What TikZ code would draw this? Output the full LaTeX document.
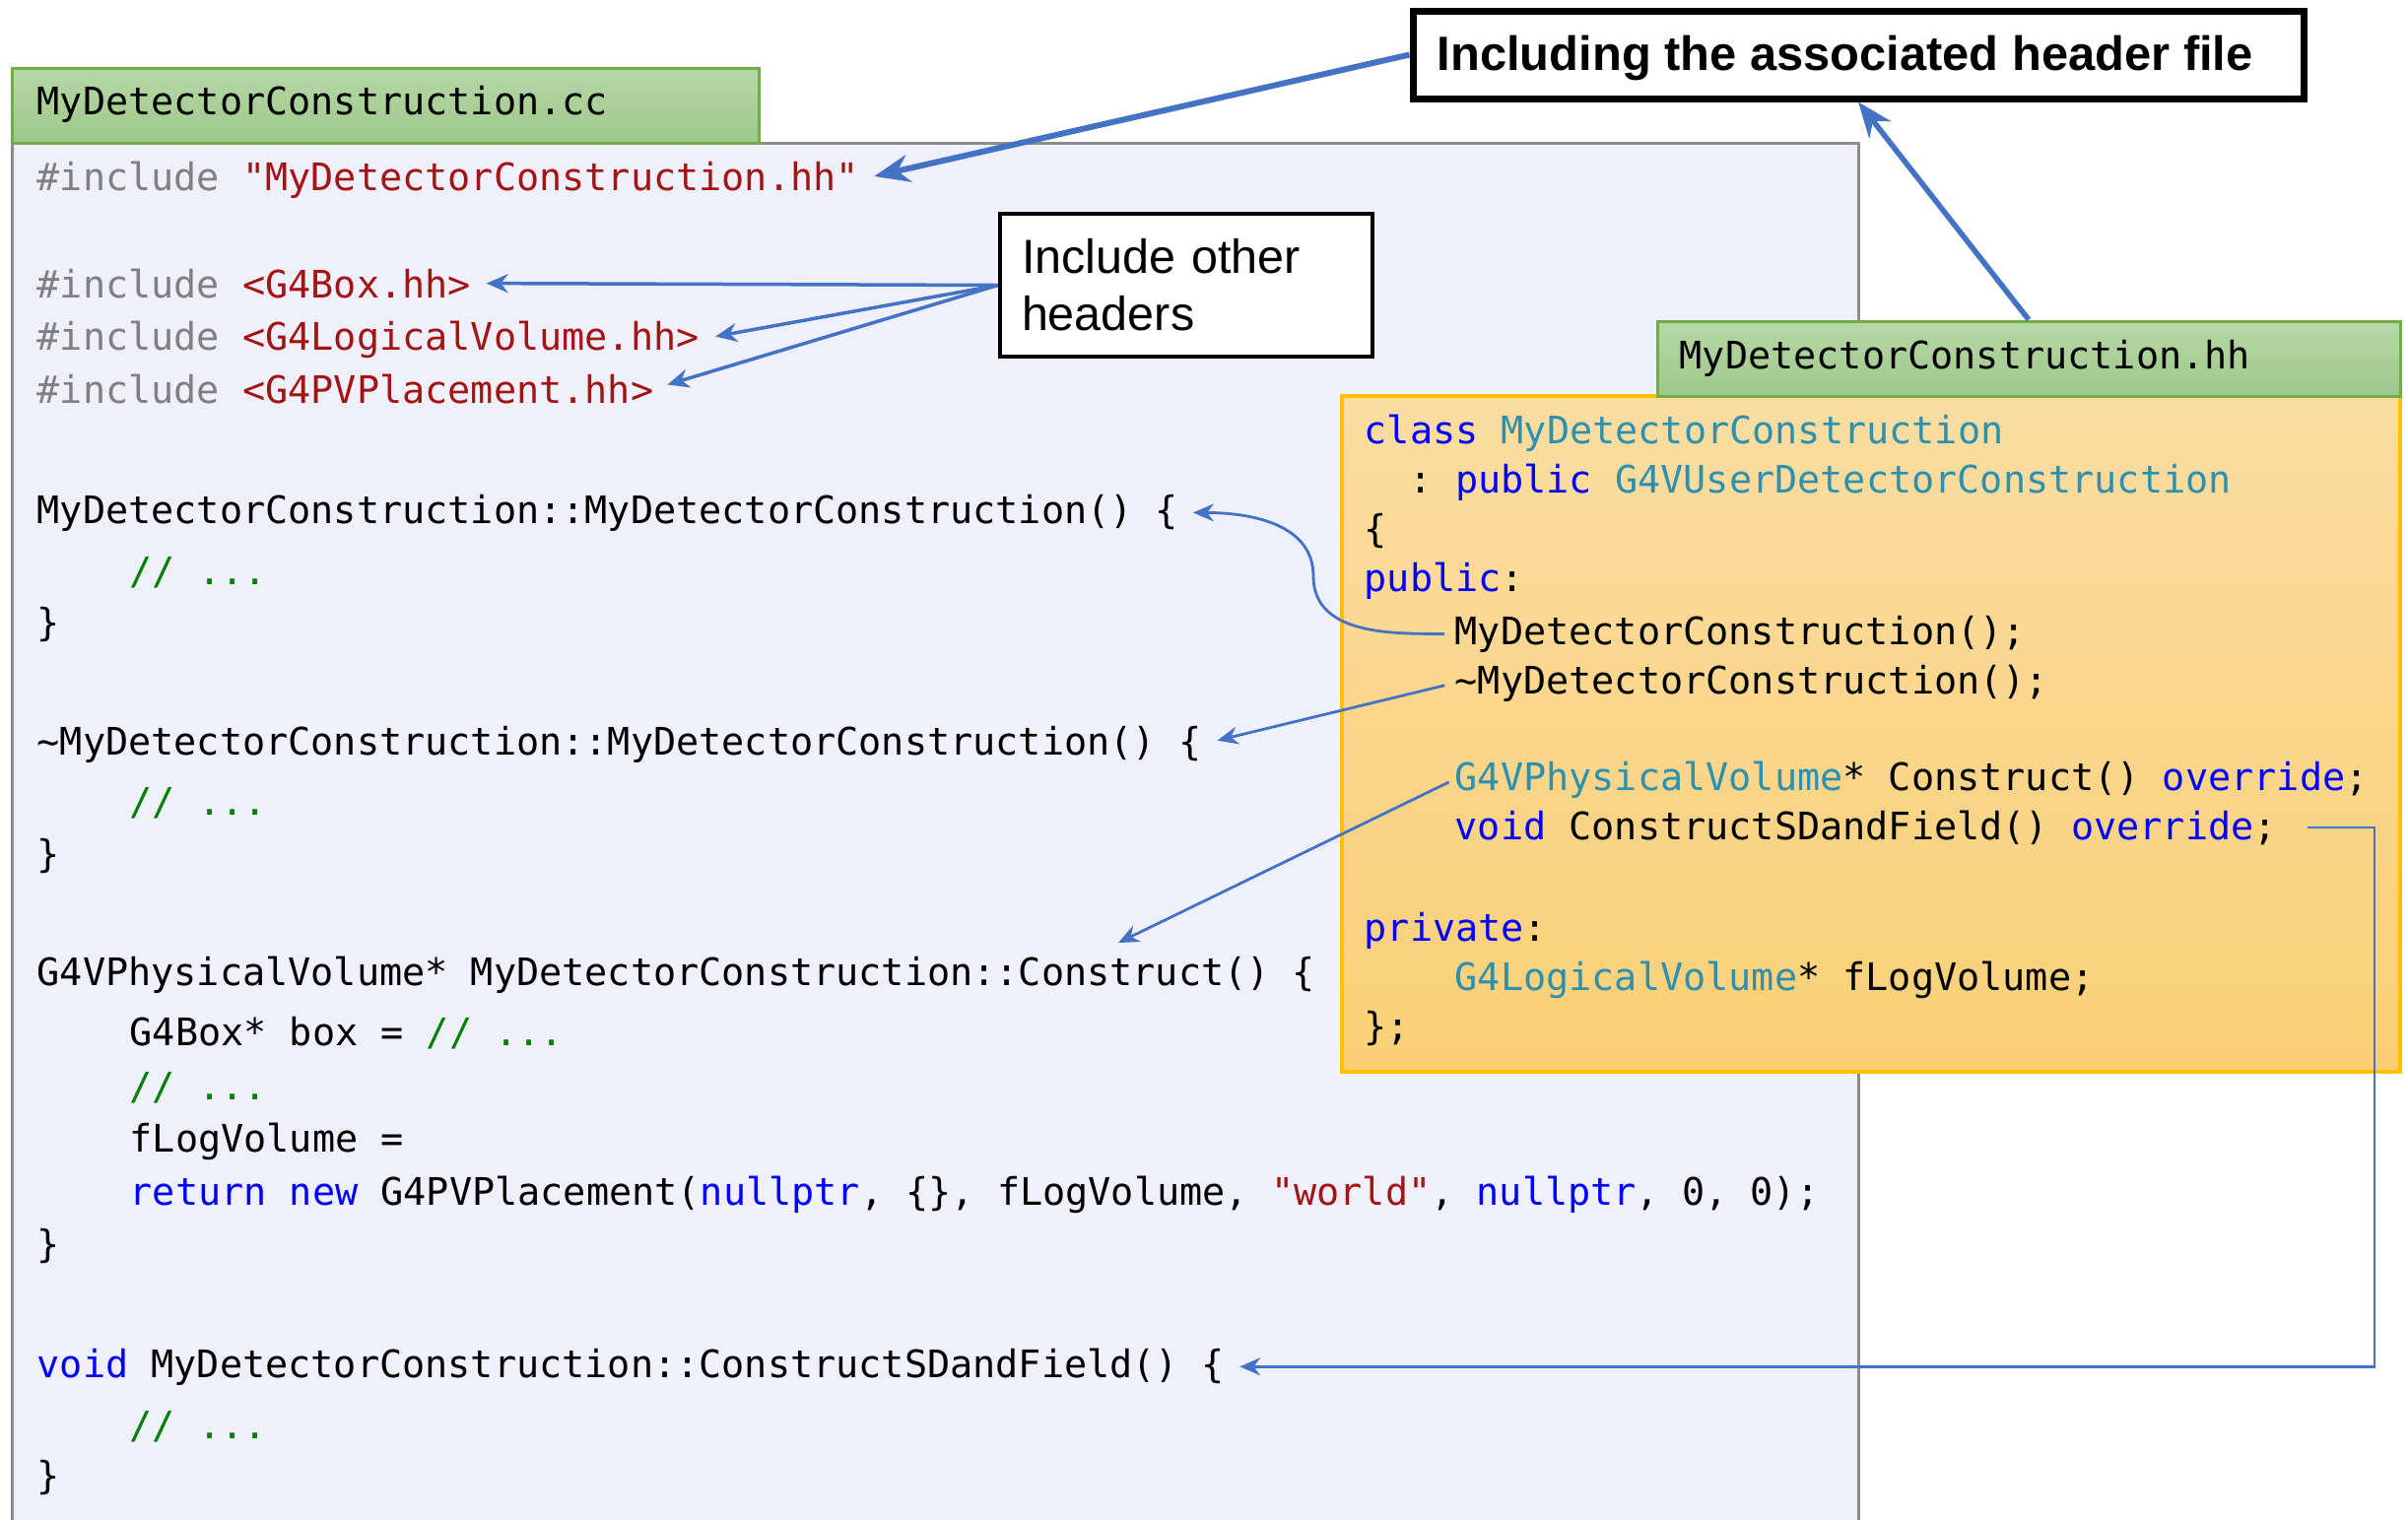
\documentclass[tikz,border=0pt]{standalone}
\usepackage{fontspec}
\setmainfont{Liberation Sans}
\setmonofont{DejaVu Sans Mono}
\usetikzlibrary{arrows.meta,calc}
\definecolor{kwc}{RGB}{0,0,255}
\definecolor{tyc}{RGB}{43,145,175}
\definecolor{strc}{RGB}{163,21,21}
\definecolor{cmc}{RGB}{0,128,0}
\definecolor{ppc}{RGB}{128,128,128}
\definecolor{arrblue}{RGB}{68,114,196}
\definecolor{lav}{RGB}{240,240,252}
\definecolor{grayb}{RGB}{140,140,140}
\definecolor{gtop}{RGB}{182,216,166}
\definecolor{gbot}{RGB}{158,199,138}
\definecolor{gbord}{RGB}{112,173,71}
\definecolor{otop}{RGB}{251,221,162}
\definecolor{obot}{RGB}{250,207,118}
\definecolor{gold}{RGB}{255,192,0}
\newcommand{\kwd}[1]{\textcolor{kwc}{#1}}
\newcommand{\typ}[1]{\textcolor{tyc}{#1}}
\newcommand{\strg}[1]{\textcolor{strc}{#1}}
\newcommand{\cmt}[1]{\textcolor{cmc}{#1}}
\newcommand{\ppd}[1]{\textcolor{ppc}{#1}}
\begin{document}
\begin{tikzpicture}[x=0.1mm,y=-0.1mm,
  code/.style={font=\ttfamily\fontsize{10.95}{13}\selectfont, inner sep=0pt, anchor=base west},
  tab/.style={draw=gbord, line width=0.3mm, top color=gtop, bottom color=gbot, inner sep=0pt},
  lbl/.style={font=\fontsize{13.8}{16.5}\selectfont, fill=white, draw=black, inner sep=0pt},
  arr/.style={draw=arrblue, line width=0.35mm, -{Stealth[length=2.2mm,width=1.9mm]}},
  thin/.style={draw=arrblue, line width=0.28mm, -{Stealth[length=2.1mm,width=1.8mm]}},
  big/.style={draw=arrblue, line width=0.6mm, -{Stealth[length=3.6mm,width=2.8mm]}}]
\useasboundingbox (0,0) rectangle (2444,1542);
\clip (0,0) rectangle (2444,1542);
% .cc box
\fill[lav] (12,145) rectangle (1886,1570);
\draw[grayb, line width=0.3mm] (12,1570) -- (12,145) -- (1886,145) -- (1886,1570);
\node[tab, minimum width=75.8mm, minimum height=7.6mm] (tabcc) at (391,107) {};
\node[code] (tcc) at (37,116) {MyDetectorConstruction.cc};
% .cc code
\node[code] (c1) at (37,193) {\ppd{\#include} \strg{"MyDetectorConstruction.hh"}};
\node[code] (c2) at (37,302) {\ppd{\#include} \strg{<G4Box.hh>}};
\node[code] (c3) at (37,355) {\ppd{\#include} \strg{<G4LogicalVolume.hh>}};
\node[code] (c4) at (37,409) {\ppd{\#include} \strg{<G4PVPlacement.hh>}};
\node[code] (c5) at (37,531) {MyDetectorConstruction::MyDetectorConstruction() \{};
\node[code] (c6) at (131,593) {\cmt{// ...}};
\node[code] (c7) at (37,645) {\}};
\node[code] (c8) at (37,766) {\textasciitilde MyDetectorConstruction::MyDetectorConstruction() \{};
\node[code] (c9) at (131,827) {\cmt{// ...}};
\node[code] (c10) at (37,880) {\}};
\node[code] (c11) at (37,1000) {G4VPhysicalVolume* MyDetectorConstruction::Construct() \{};
\node[code] (c12) at (131,1061) {G4Box* box = \cmt{// ...}};
\node[code] (c13) at (131,1116) {\cmt{// ...}};
\node[code] (c14) at (131,1169) {fLogVolume =};
\node[code] (c15) at (131,1223) {\kwd{return} \kwd{new} G4PVPlacement(\kwd{nullptr}, \{\}, fLogVolume, \strg{"world"}, \kwd{nullptr}, 0, 0);};
\node[code] (c16) at (37,1276) {\}};
\node[code] (c17) at (37,1398) {\kwd{void} MyDetectorConstruction::ConstructSDandField() \{};
\node[code] (c18) at (131,1460) {\cmt{// ...}};
\node[code] (c19) at (37,1511) {\}};
% label boxes
\node[lbl, line width=0.7mm, minimum width=90.4mm, minimum height=8.9mm] (inc) at (1886,55.5) {};
\node[font=\bfseries\fontsize{13.9}{16.5}\selectfont, inner sep=0pt, anchor=base west] (inctext) at (1458,71) {Including the associated header file};
\node[lbl, line width=0.45mm, minimum width=37.8mm, minimum height=14.5mm, text width=33.4mm, align=left] (ioh) at (1204,289.5) {Include other\\headers};
% .hh box
\draw[gold, line width=0.35mm, top color=otop, bottom color=obot] (1362,402) rectangle (2436,1088);
\node[tab, minimum width=75.4mm, minimum height=7.6mm] (tabhh) at (2059,364) {};
\node[code] (thh) at (1704,374) {MyDetectorConstruction.hh};
\node[code] (h1) at (1384,450) {\kwd{class} \typ{MyDetectorConstruction}};
\node[code] (h2) at (1430,500) {: \kwd{public} \typ{G4VUserDetectorConstruction}};
\node[code] (h3) at (1384,550) {\{};
\node[code] (h4) at (1384,600) {\kwd{public}:};
\node[code] (h5) at (1476,654) {MyDetectorConstruction();};
\node[code] (h6) at (1476,704) {\textasciitilde MyDetectorConstruction();};
\node[code] (h7) at (1476,802) {\typ{G4VPhysicalVolume}* Construct() \kwd{override};};
\node[code] (h8) at (1476,852) {\kwd{void} ConstructSDandField() \kwd{override};};
\node[code] (h9) at (1384,955) {\kwd{private}:};
\node[code] (h10) at (1476,1005) {\typ{G4LogicalVolume}* fLogVolume;};
\node[code] (h11) at (1384,1055) {\};};
% connectors
\draw[big, shorten >=1.5mm] (inc.west) -- (c1.east);
\draw[big, line width=0.55mm] (tabhh.north) -- (inc.south);
\draw[arr, shorten >=1.5mm] (ioh.west) -- (c2.east);
\draw[arr, shorten >=1.6mm] (ioh.west) -- (c3.east);
\draw[arr, shorten >=1.4mm] (ioh.west) -- (c4.east);
\coordinate (fmid) at (1333,585);
\draw[thin, shorten <=1mm, shorten >=1.4mm] (h5.west) to[out=180,in=270] (fmid) to[out=90,in=0] (c5.east);
\draw[thin, shorten <=1mm, shorten >=1.6mm] (h6.west) -- (c8.east);
\coordinate (hend) at (1135,957);
\draw[thin, shorten <=0.6mm] (h7.west) -- (hend);
\coordinate (iright) at (2410,0);
\draw[thin, shorten >=1.5mm] ([xshift=3mm]h8.east) -| (iright |- c17.east) -- (c17.east);
\end{tikzpicture}
\end{document}
